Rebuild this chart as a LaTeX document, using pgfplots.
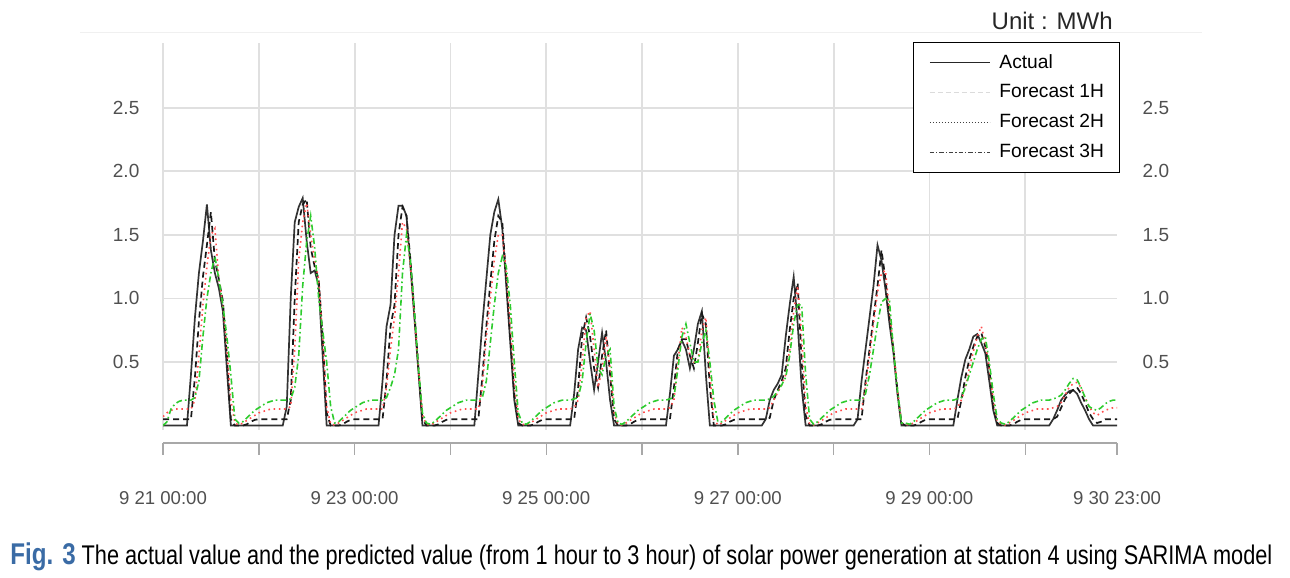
\documentclass[border=0pt]{standalone}
\usepackage{fontspec}
\setmainfont{Liberation Sans}
\usepackage{graphicx}
\usepackage{pgfplots}
\usepackage{pgfplotstable}
\pgfplotsset{compat=1.18}

\definecolor{tickc}{HTML}{505050}
\definecolor{gridc}{HTML}{E0E0E0}
\definecolor{axisc}{HTML}{A8A8A8}
\definecolor{figblue}{HTML}{3A6BA5}
\definecolor{fred}{HTML}{FF4D4D}
\definecolor{fgreen}{HTML}{2ECC2E}

\pgfplotstableread{
x A F1 F2 F3
0 0 0.05 0.07 0.00
1 0 0.05 0.10 0.03
2 0 0.05 0.12 0.13
3 0 0.05 0.13 0.17
4 0 0.05 0.13 0.19
5 0 0.05 0.13 0.20
6 0 0.05 0.13 0.20
7 0.40 0.05 0.13 0.20
8 0.85 0.38 0.20 0.22
9 1.20 0.82 0.55 0.35
10 1.45 1.17 0.95 0.70
11 1.74 1.42 1.25 1.00
12 1.38 1.68 1.50 1.20
13 1.20 1.30 1.55 1.33
14 1.08 1.15 1.15 1.15
15 0.90 0.98 0.95 0.95
16 0.45 0.55 0.60 0.70
17 0 0.05 0.20 0.40
18 0 0 0.02 0.05
19 0 0 0.005 0.02
20 0 0 0.02 0.03
21 0 0.01 0.04 0.06
22 0 0.03 0.06 0.09
23 0 0.045 0.08 0.12
24 0 0.05 0.10 0.14
25 0 0.05 0.11 0.16
26 0 0.05 0.12 0.18
27 0 0.05 0.13 0.19
28 0 0.05 0.13 0.20
29 0 0.05 0.13 0.20
30 0 0.05 0.13 0.20
31 0.15 0.05 0.13 0.20
32 1.00 0.20 0.15 0.21
33 1.60 1.00 0.60 0.30
34 1.72 1.60 1.30 0.55
35 1.79 1.74 1.60 1.10
36 1.45 1.78 1.75 1.45
37 1.20 1.40 1.50 1.65
38 1.22 1.25 1.30 1.40
39 1.10 1.15 1.15 1.00
40 0.55 0.70 0.70 0.75
41 0 0.10 0.15 0.50
42 0 0 0.01 0.15
43 0 0 0.005 0.02
44 0 0 0.02 0.03
45 0 0.01 0.04 0.06
46 0 0.03 0.06 0.09
47 0 0.045 0.08 0.12
48 0 0.05 0.10 0.14
49 0 0.05 0.11 0.16
50 0 0.05 0.12 0.18
51 0 0.05 0.13 0.19
52 0 0.05 0.13 0.20
53 0 0.05 0.13 0.20
54 0 0.05 0.13 0.20
55 0.35 0.05 0.13 0.20
56 0.78 0.35 0.30 0.22
57 0.95 0.78 0.60 0.30
58 1.50 0.95 0.85 0.40
59 1.73 1.50 1.20 0.60
60 1.73 1.72 1.60 1.20
61 1.65 1.65 1.55 1.50
62 1.25 1.30 1.25 1.30
63 0.84 0.88 0.85 0.90
64 0.42 0.45 0.45 0.45
65 0 0.05 0.08 0.10
66 0 0 0.01 0.02
67 0 0 0.005 0.01
68 0 0 0.02 0.03
69 0 0.01 0.04 0.06
70 0 0.03 0.06 0.09
71 0 0.045 0.08 0.12
72 0 0.05 0.10 0.14
73 0 0.05 0.11 0.16
74 0 0.05 0.12 0.18
75 0 0.05 0.13 0.19
76 0 0.05 0.13 0.20
77 0 0.05 0.13 0.20
78 0 0.05 0.13 0.20
79 0.40 0.05 0.13 0.20
80 0.80 0.38 0.30 0.22
81 1.15 0.78 0.70 0.35
82 1.50 1.12 1.00 0.65
83 1.68 1.45 1.30 0.95
84 1.78 1.65 1.50 1.20
85 1.55 1.60 1.50 1.33
86 1.10 1.15 1.20 1.25
87 0.65 0.70 0.80 0.95
88 0.20 0.25 0.35 0.50
89 0 0.02 0.05 0.10
90 0 0 0.01 0.02
91 0 0 0.005 0.01
92 0 0 0.02 0.03
93 0 0.01 0.04 0.06
94 0 0.03 0.06 0.09
95 0 0.045 0.08 0.12
96 0 0.05 0.10 0.14
97 0 0.05 0.11 0.16
98 0 0.05 0.12 0.18
99 0 0.05 0.13 0.19
100 0 0.05 0.13 0.20
101 0 0.05 0.13 0.20
102 0 0.05 0.13 0.20
103 0.25 0.05 0.14 0.21
104 0.60 0.30 0.20 0.22
105 0.77 0.70 0.50 0.35
106 0.75 0.85 0.85 0.65
107 0.50 0.70 0.90 0.88
108 0.28 0.45 0.60 0.75
109 0.50 0.30 0.30 0.45
110 0.73 0.55 0.45 0.40
111 0.50 0.75 0.70 0.55
112 0.20 0.40 0.45 0.60
113 0 0.05 0.10 0.15
114 0 0 0.01 0.02
115 0 0 0.005 0.01
116 0 0 0.02 0.03
117 0 0.01 0.04 0.06
118 0 0.03 0.06 0.09
119 0 0.045 0.08 0.12
120 0 0.05 0.10 0.14
121 0 0.05 0.11 0.16
122 0 0.05 0.12 0.18
123 0 0.05 0.13 0.19
124 0 0.05 0.13 0.20
125 0 0.05 0.13 0.20
126 0 0.05 0.13 0.20
127 0.25 0.05 0.14 0.21
128 0.55 0.30 0.20 0.22
129 0.60 0.60 0.50 0.45
130 0.67 0.68 0.77 0.70
131 0.60 0.68 0.70 0.80
132 0.45 0.55 0.55 0.65
133 0.60 0.45 0.50 0.50
134 0.80 0.65 0.50 0.50
135 0.90 0.88 0.75 0.65
136 0.40 0.80 0.85 0.75
137 0 0.30 0.40 0.50
138 0 0 0.05 0.20
139 0 0 0.005 0.03
140 0 0 0.02 0.03
141 0 0.01 0.04 0.06
142 0 0.03 0.06 0.09
143 0 0.045 0.08 0.12
144 0 0.05 0.10 0.14
145 0 0.05 0.11 0.16
146 0 0.05 0.12 0.18
147 0 0.05 0.13 0.19
148 0 0.05 0.13 0.20
149 0 0.05 0.13 0.20
150 0 0.05 0.13 0.20
151 0.05 0.05 0.13 0.20
152 0.20 0.06 0.14 0.21
153 0.28 0.20 0.20 0.23
154 0.33 0.28 0.26 0.27
155 0.40 0.35 0.32 0.32
156 0.70 0.45 0.40 0.38
157 0.95 0.75 0.60 0.55
158 1.17 1.00 0.90 0.80
159 0.80 1.12 1.10 0.95
160 0.30 0.50 0.70 0.95
161 0 0.08 0.15 0.40
162 0 0 0.01 0.05
163 0 0 0.005 0.01
164 0 0 0.02 0.03
165 0 0.01 0.04 0.06
166 0 0.03 0.06 0.09
167 0 0.045 0.08 0.12
168 0 0.05 0.10 0.14
169 0 0.05 0.11 0.16
170 0 0.05 0.12 0.18
171 0 0.05 0.13 0.19
172 0 0.05 0.13 0.20
173 0 0.05 0.13 0.20
174 0.05 0.05 0.13 0.20
175 0.35 0.05 0.13 0.20
176 0.60 0.35 0.30 0.25
177 0.85 0.60 0.55 0.40
178 1.10 0.85 0.80 0.60
179 1.42 1.10 1.05 0.80
180 1.30 1.38 1.20 0.97
181 1.07 1.15 1.22 1.00
182 0.80 0.85 0.90 0.98
183 0.57 0.60 0.60 0.60
184 0.25 0.27 0.28 0.28
185 0 0.02 0.02 0.02
186 0 0 0.01 0.02
187 0 0 0.005 0.01
188 0 0 0.02 0.03
189 0 0.01 0.04 0.06
190 0 0.03 0.06 0.09
191 0 0.045 0.08 0.12
192 0 0.05 0.10 0.14
193 0 0.05 0.11 0.16
194 0 0.05 0.12 0.18
195 0 0.05 0.13 0.19
196 0 0.05 0.13 0.20
197 0 0.05 0.13 0.20
198 0 0.05 0.13 0.20
199 0.20 0.05 0.14 0.21
200 0.38 0.20 0.20 0.22
201 0.52 0.38 0.30 0.30
202 0.60 0.52 0.45 0.40
203 0.70 0.62 0.58 0.50
204 0.72 0.70 0.70 0.60
205 0.65 0.73 0.78 0.68
206 0.57 0.62 0.65 0.70
207 0.35 0.45 0.45 0.50
208 0.12 0.15 0.20 0.25
209 0 0.02 0.03 0.05
210 0 0 0.01 0.02
211 0 0 0.005 0.01
212 0 0 0.02 0.03
213 0 0.01 0.04 0.06
214 0 0.03 0.06 0.09
215 0 0.045 0.08 0.12
216 0 0.05 0.10 0.14
217 0 0.05 0.11 0.16
218 0 0.05 0.12 0.18
219 0 0.05 0.13 0.19
220 0 0.05 0.13 0.20
221 0 0.05 0.13 0.20
222 0 0.05 0.13 0.20
223 0.05 0.05 0.14 0.21
224 0.12 0.07 0.15 0.22
225 0.20 0.14 0.18 0.24
226 0.24 0.21 0.24 0.28
227 0.27 0.25 0.30 0.33
228 0.28 0.28 0.33 0.37
229 0.25 0.30 0.34 0.36
230 0.18 0.25 0.30 0.30
231 0.12 0.18 0.22 0.22
232 0.05 0.10 0.15 0.15
233 0 0.05 0.10 0.13
234 0 0.02 0.08 0.12
235 0 0.03 0.10 0.14
236 0 0.05 0.12 0.17
237 0 0.05 0.13 0.19
238 0 0.05 0.14 0.20
239 0 0.05 0.14 0.20
}\data

\begin{document}
\begin{tikzpicture}
\path[use as bounding box] (0,0) rectangle (645pt,289pt);
\draw[gray!12, line width=0.5pt] (40pt,272.5pt) -- (601pt,272.5pt);

% main plot area
\begin{axis}[
  at={(81.5pt,74pt)}, anchor=south west, scale only axis,
  width=477pt, height=193.5pt,
  xmin=0, xmax=239, ymin=-0.035, ymax=3.01,
  xtick={0,24,...,216}, xticklabels={},
  ytick={0.5,1,1.5,2,2.5}, yticklabels={0.5,1.0,1.5,2.0,2.5},
  grid=major, major grid style={gridc, line width=0.9pt},
  axis line style={draw=none}, major tick length=0pt,
  yticklabel style={font=\fontsize{9.5}{11}\selectfont, text=tickc, xshift=-8.3pt},
  legend cell align=left,
  legend image code/.code={\draw[#1] (0pt,0pt) -- (30pt,0pt);},
  legend style={at={(0.786,1.0026)}, anchor=north west, draw=black,
    line width=0.6pt, fill=white, font=\fontsize{9.6}{11}\selectfont,
    inner xsep=7.8pt, inner ysep=5.8pt, row sep=6.8pt, column sep=4.5pt,
    nodes={inner sep=0pt}},
]
\addlegendimage{black!85, line width=0.7pt}
\addlegendentry{Actual}
\addlegendimage{black!14, line width=0.6pt, dash pattern=on 2.5pt off 1.5pt}
\addlegendentry{Forecast 1H}
\addlegendimage{black!75, line width=0.6pt, dash pattern=on 0.6pt off 0.9pt}
\addlegendentry{Forecast 2H}
\addlegendimage{black!75, line width=0.6pt, dash pattern=on 2.2pt off 1pt on 0.6pt off 1pt}
\addlegendentry{Forecast 3H}

\addplot[forget plot, black!80, line width=0.85pt] table[x=x, y=A]{\data};
\addplot[forget plot, black!90, line width=0.85pt, dash pattern=on 3pt off 2pt] table[x=x, y=F1]{\data};
\addplot[forget plot, fred, line width=0.8pt, dash pattern=on 0.8pt off 1.8pt] table[x=x, y=F2]{\data};
\addplot[forget plot, fgreen, line width=0.8pt, dash pattern=on 3pt off 1.5pt on 0.8pt off 1.5pt] table[x=x, y=F3]{\data};
\end{axis}

% right tick labels
\begin{axis}[
  at={(81.5pt,74pt)}, anchor=south west, scale only axis,
  width=477pt, height=193.5pt,
  xmin=0, xmax=239, ymin=-0.035, ymax=3.01,
  xtick=\empty,
  ytick={0.5,1,1.5,2,2.5}, yticklabels={0.5,1.0,1.5,2.0,2.5},
  yticklabel pos=right, ytick pos=right,
  axis line style={draw=none}, major tick length=0pt,
  yticklabel style={font=\fontsize{9.5}{11}\selectfont, text=tickc, xshift=9.3pt},
]
\addplot[draw=none, forget plot] coordinates {(0,0)};
\end{axis}

% bottom time axis
\begin{axis}[
  at={(81.5pt,67.5pt)}, anchor=south west, scale only axis,
  width=477pt, height=20pt,
  xmin=0, xmax=239, ymin=0, ymax=1,
  axis x line*=bottom, axis y line=none,
  x axis line style={-, draw=axisc, line width=0.7pt},
  xtick={0,24,48,72,96,120,144,168,192,216,239},
  xticklabels={{9 21 00:00},{},{9 23 00:00},{},{9 25 00:00},{},{9 27 00:00},{},{9 29 00:00},{},{9 30 23:00}},
  tick align=outside, major tick length=6pt,
  x tick style={draw=axisc, line width=0.7pt},
  xticklabel style={font=\fontsize{9.3}{11}\selectfont, text=tickc, anchor=center, yshift=-21.5pt},
]
\addplot[draw=none, forget plot] coordinates {(0,0.5)};
\end{axis}

\node[anchor=base east, inner sep=0pt, font=\fontsize{12}{14}\selectfont, text=black!85] at (556.5pt,274pt) {Unit : MWh};

\node[anchor=base west, inner sep=0pt] at (5pt,6.5pt) {\resizebox{631pt}{\height}{\fontsize{13.5}{15}\selectfont{\color{figblue}\fontsize{15}{17}\selectfont\bfseries Fig. 3}\ The actual value and the predicted value (from 1 hour to 3 hour) of solar power generation at station 4 using SARIMA model}};
\end{tikzpicture}
\end{document}
